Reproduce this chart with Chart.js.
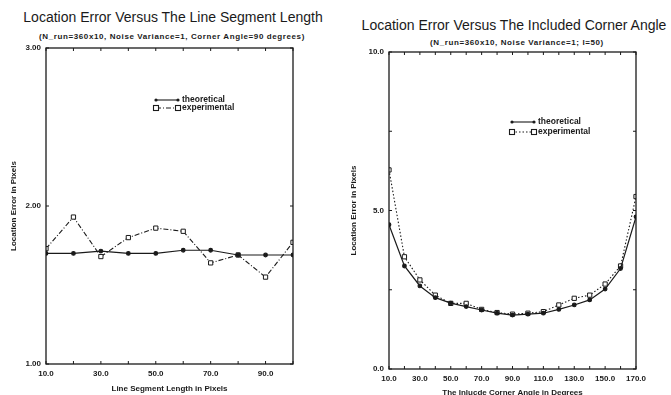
<!DOCTYPE html>
<html lang="en">
<head>
  <meta charset="UTF-8">
  <title>Location Error</title>
  <script src="https://cdn.jsdelivr.net/npm/chart.js"></script>
  <style>
    * { box-sizing: border-box; margin: 0; padding: 0; }

    body {
      width: 671px;
      height: 395px;
      background: #fff;
      position: relative;
      overflow: hidden;
      font-family: 'Liberation Sans', Arial, sans-serif;
      color: #1a1a1a;
    }

    .title {
      position: absolute;
      font-size: 14px;
      white-space: nowrap;
      transform: translateX(-50%);
    }

    .subtitle {
      position: absolute;
      font-size: 8px;
      font-weight: bold;
      letter-spacing: 0.6px;
      white-space: nowrap;
      transform: translateX(-50%);
    }

    canvas { position: absolute; top: 0; }
  </style>
</head>
<body>
  <div class="title" style="left:173px; top:9px;">Location Error Versus The Line Segment Length</div>
  <div class="subtitle" style="left:172px; top:32px;">(N_run=360x10, Noise Variance=1, Corner Angle=90 degrees)</div>
  <div class="title" style="left:514px; top:17px;">Location Error Versus The Included Corner Angle</div>
  <div class="subtitle" style="left:517px; top:38px;">(N_run=360x10, Noise Variance=1; l=50)</div>

  <canvas id="lengthChart" width="340" height="395" style="left:0;"></canvas>
  <canvas id="angleChart" width="331" height="395" style="left:340px;"></canvas>

  <script>
    // segment length chart
    const lengths = [10, 20, 30, 40, 50, 60, 70, 80, 90, 100];
    const lenTheory = [1.70, 1.70, 1.715, 1.70, 1.70, 1.72, 1.72, 1.69, 1.69, 1.69];
    const lenExperiment = [1.73, 1.93, 1.68, 1.80, 1.86, 1.84, 1.64, 1.69, 1.55, 1.77];

    // corner angle chart
    const angles = [10, 20, 30, 40, 50, 60, 70, 80, 90, 100, 110, 120, 130, 140, 150, 160, 170];
    const angTheory = [4.55, 3.25, 2.62, 2.25, 2.08, 1.97, 1.86, 1.76, 1.70, 1.73, 1.76, 1.88, 2.02, 2.18, 2.52, 3.17, 4.80];
    const angExperiment = [6.28, 3.54, 2.81, 2.33, 2.07, 2.07, 1.88, 1.78, 1.73, 1.76, 1.81, 2.02, 2.23, 2.33, 2.68, 3.25, 5.44];

    const seriesNames = ['theoretical', 'experimental'];

    const ink = '#1a1a1a';
    const small = { family: "'Liberation Sans', Arial, sans-serif", size: 8, weight: 'bold' };

    function toPoints(xs, ys) {
      return xs.map((x, i) => ({ x: x, y: ys[i] }));
    }

    // box around the plot plus inward tick marks
    const frameTicks = {
      id: 'frameTicks',
      afterDraw(chart, args, opts) {
        const ctx = chart.ctx;
        const a = chart.chartArea;
        const x = chart.scales.x;
        const y = chart.scales.y;
        ctx.save();
        ctx.strokeStyle = ink;
        ctx.lineWidth = 1.3;
        ctx.strokeRect(a.left, a.top, a.right - a.left, a.bottom - a.top);
        ctx.lineWidth = 1;
        ctx.beginPath();
        for (let v = x.min; v <= x.max + 1e-9; v += opts.xStep) {
          const px = x.getPixelForValue(v);
          ctx.moveTo(px, a.bottom); ctx.lineTo(px, a.bottom - 3);
          ctx.moveTo(px, a.top); ctx.lineTo(px, a.top + 3);
        }
        for (let v = y.min; v <= y.max + 1e-9; v += opts.yStep) {
          const py = y.getPixelForValue(v);
          ctx.moveTo(a.left, py); ctx.lineTo(a.left + 3, py);
          ctx.moveTo(a.right, py); ctx.lineTo(a.right - 3, py);
        }
        ctx.stroke();
        ctx.restore();
      }
    };

    // legend drawn inside the plot area
    const innerLegend = {
      id: 'innerLegend',
      afterDraw(chart, args, opts) {
        const ctx = chart.ctx;
        ctx.save();
        ctx.font = 'bold 8.5px "Liberation Sans", Arial, sans-serif';
        ctx.textBaseline = 'middle';
        chart.data.datasets.forEach((ds, i) => {
          const y = opts.y + i * opts.gap;
          const x0 = opts.x;
          const x1 = opts.x + opts.len;
          ctx.strokeStyle = ink;
          ctx.lineWidth = 1.1;
          ctx.setLineDash(ds.borderDash || []);
          ctx.beginPath();
          ctx.moveTo(x0, y);
          ctx.lineTo(x1, y);
          ctx.stroke();
          ctx.setLineDash([]);
          [x0, x1].forEach(px => {
            if (ds.pointStyle === 'rect') {
              ctx.fillStyle = '#fff';
              ctx.fillRect(px - 2.5, y - 2.5, 5, 5);
              ctx.strokeRect(px - 2.5, y - 2.5, 5, 5);
            } else {
              ctx.fillStyle = ink;
              ctx.beginPath();
              ctx.arc(px, y, 1.6, 0, Math.PI * 2);
              ctx.fill();
            }
          });
          ctx.fillStyle = ink;
          ctx.fillText(ds.label, x1 + 4, y);
        });
        ctx.restore();
      }
    };

    function makeChart(id, cfg) {
      return new Chart(document.getElementById(id), {
        type: 'line',
        data: {
          datasets: [{
            label: seriesNames[0],
            data: toPoints(cfg.xs, cfg.theory),
            borderColor: ink,
            borderWidth: 1.2,
            pointStyle: 'circle',
            pointRadius: 1.8,
            pointBackgroundColor: ink,
            pointBorderColor: ink,
            tension: 0
          }, {
            label: seriesNames[1],
            data: toPoints(cfg.xs, cfg.experiment),
            borderColor: ink,
            borderWidth: 1.1,
            borderDash: cfg.dash,
            pointStyle: 'rect',
            pointRadius: 3,
            pointBackgroundColor: '#fff',
            pointBorderColor: ink,
            pointBorderWidth: 1,
            tension: 0
          }]
        },
        options: {
          responsive: false,
          animation: false,
          events: [],
          layout: { padding: cfg.padding },
          plugins: {
            legend: { display: false },
            tooltip: { enabled: false },
            frameTicks: { xStep: cfg.xStep, yStep: cfg.yMinor },
            innerLegend: cfg.legend
          },
          scales: {
            x: {
              type: 'linear',
              min: cfg.xs[0],
              max: cfg.xMax,
              afterFit: s => { s.height = cfg.xAxisHeight; },
              grid: { display: false, drawTicks: false },
              border: { display: false },
              ticks: {
                stepSize: cfg.xStep,
                autoSkip: false,
                maxRotation: 0,
                padding: 5,
                color: ink,
                font: small,
                callback: v => ((v - cfg.xs[0]) % (2 * cfg.xStep) === 0 ? v.toFixed(1) : '')
              },
              title: {
                display: true,
                text: cfg.xTitle,
                color: ink,
                font: small,
                padding: { top: 0, bottom: cfg.xTitlePad }
              }
            },
            y: {
              min: cfg.yMin,
              max: cfg.yMax,
              afterFit: s => { s.width = cfg.yAxisWidth; },
              grid: { display: false, drawTicks: false },
              border: { display: false },
              ticks: {
                stepSize: cfg.yStep,
                padding: 5,
                color: ink,
                font: small,
                callback: v => v.toFixed(cfg.yDigits)
              },
              title: {
                display: true,
                text: 'Location Error in Pixels',
                color: ink,
                font: small,
                padding: { top: 5, bottom: 0 }
              }
            }
          }
        },
        plugins: [frameTicks, innerLegend]
      });
    }

    makeChart('lengthChart', {
      xs: lengths,
      theory: lenTheory,
      experiment: lenExperiment,
      dash: [5, 2, 1, 2],
      xMax: 100,
      xStep: 10,
      yMin: 1,
      yMax: 3,
      yStep: 1,
      yMinor: 1,
      yDigits: 2,
      padding: { top: 48, right: 47, bottom: 0, left: 4 },
      xAxisHeight: 31,
      yAxisWidth: 42,
      xTitle: 'Line Segment Length in Pixels',
      xTitlePad: 1,
      legend: { x: 156, y: 100, gap: 8, len: 22 }
    });

    makeChart('angleChart', {
      xs: angles,
      theory: angTheory,
      experiment: angExperiment,
      dash: [1.5, 2],
      xMax: 170,
      xStep: 10,
      yMin: 0,
      yMax: 10,
      yStep: 5,
      yMinor: 2.5,
      yDigits: 1,
      padding: { top: 52, right: 35, bottom: 0, left: 4 },
      xAxisHeight: 26,
      yAxisWidth: 45,
      xTitle: 'The Inlucde Corner Angle in Degrees',
      xTitlePad: -3,
      legend: { x: 172, y: 122, gap: 10, len: 22 }
    });
  </script>
</body>
</html>
